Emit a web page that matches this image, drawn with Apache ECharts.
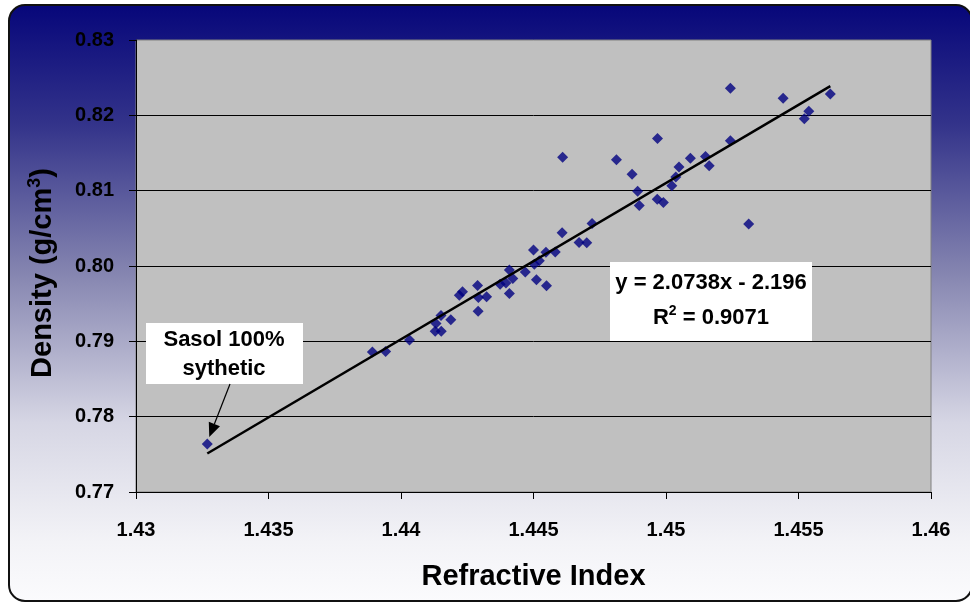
<!DOCTYPE html>
<html>
<head>
<meta charset="utf-8">
<script src="https://cdn.jsdelivr.net/npm/echarts@6/dist/echarts.min.js"></script>
<style>
  html, body { margin: 0; padding: 0; background: #ffffff; }
  #chart { width: 970px; height: 604px; }
</style>
</head>
<body>
<div id="chart"></div>
<script>
// Refractive index vs density of fuel samples
const refractiveIndex = [
  1.43269, 1.43892, 1.43942, 1.44032, 1.44129, 1.44152, 1.44132, 1.44151, 1.44188,
  1.44220, 1.44232, 1.44289, 1.44292, 1.44291, 1.44323, 1.44374, 1.44396, 1.44409,
  1.44409, 1.44422, 1.44469, 1.44500, 1.44503, 1.44511, 1.44522, 1.44547, 1.44549,
  1.44582, 1.44608, 1.44610, 1.44672, 1.44701, 1.44721, 1.44813, 1.44872, 1.44893,
  1.44899, 1.44968, 1.44967, 1.44990, 1.45022, 1.45037, 1.45049, 1.45092, 1.45149,
  1.45163, 1.45243, 1.45243, 1.45312, 1.45442, 1.45522, 1.45539, 1.45620
];
const density = [
  0.77637, 0.78858, 0.78865, 0.79018, 0.79133, 0.79133, 0.79237, 0.79343, 0.79287,
  0.79612, 0.79659, 0.79741, 0.79582, 0.79400, 0.79591, 0.79758, 0.79774, 0.79635,
  0.79947, 0.79834, 0.79920, 0.80212, 0.80023, 0.79818, 0.80070, 0.80182, 0.79737,
  0.80186, 0.80442, 0.81443, 0.80312, 0.80309, 0.80564, 0.81410, 0.81219, 0.80993,
  0.80803, 0.81692, 0.80885, 0.80843, 0.81066, 0.81181, 0.81314, 0.81430, 0.81454,
  0.81330, 0.81662, 0.82359, 0.80558, 0.82226, 0.81955, 0.82055, 0.82283
];

// Linear fit shown on the chart: y = 2.0738x - 2.196, R^2 = 0.9071
const fitSlope = 2.0738;
const fitIntercept = -2.196;

const xTickLabels = ['1.43', '1.435', '1.44', '1.445', '1.45', '1.455', '1.46'];
const yTickLabels = ['0.77', '0.78', '0.79', '0.80', '0.81', '0.82', '0.83'];

const X_MIN = 1.43, X_MAX = 1.46, X_STEP = 0.005;
const Y_MIN = 0.77, Y_MAX = 0.83, Y_STEP = 0.01;

const FONT = '"Liberation Sans", Arial, sans-serif';

const points = refractiveIndex.map((x, i) => [x, density[i]]);
const xLo = Math.min.apply(null, refractiveIndex);
const xHi = Math.max.apply(null, refractiveIndex);
const fitLine = [
  [xLo, fitSlope * xLo + fitIntercept],
  [xHi, fitSlope * xHi + fitIntercept]
];

const chart = echarts.init(document.getElementById('chart'), null, { renderer: 'canvas' });

const option = {
  animation: false,
  backgroundColor: 'transparent',
  grid: {
    left: 136, top: 40, width: 795, height: 452,
    show: true,
    backgroundColor: '#C0C0C0',
    borderColor: '#808080',
    borderWidth: 1
  },
  xAxis: {
    type: 'value',
    min: X_MIN, max: X_MAX, interval: X_STEP,
    axisLine: { show: true, onZero: false, lineStyle: { color: '#000', width: 1 } },
    axisTick: { show: true, length: 7, lineStyle: { color: '#000', width: 1 } },
    splitLine: { show: false },
    axisLabel: {
      color: '#000', fontSize: 20, fontWeight: 'bold', fontFamily: FONT, margin: 28,
      formatter: v => xTickLabels[Math.round((v - X_MIN) / X_STEP)]
    },
    name: 'Refractive Index',
    nameLocation: 'middle',
    nameGap: 70,
    nameTextStyle: { color: '#000', fontSize: 29, fontWeight: 'bold', fontFamily: FONT }
  },
  yAxis: {
    type: 'value',
    min: Y_MIN, max: Y_MAX, interval: Y_STEP,
    axisLine: { show: true, onZero: false, lineStyle: { color: '#000', width: 1 } },
    axisTick: { show: true, length: 7, lineStyle: { color: '#000', width: 1 } },
    splitLine: { show: true, showMaxLine: false, lineStyle: { color: '#000', width: 1 } },
    axisLabel: {
      color: '#000', fontSize: 20, fontWeight: 'bold', fontFamily: FONT, margin: 22,
      formatter: v => yTickLabels[Math.round((v - Y_MIN) / Y_STEP)]
    },
    name: '{t|Density (g/cm}{s|3}{t|)}',
    nameLocation: 'middle',
    nameRotate: 90,
    nameGap: 76,
    nameTextStyle: {
      color: '#000', fontSize: 29, fontWeight: 'bold', fontFamily: FONT,
      padding: [0, 14, 0, 0],
      rich: {
        t: { color: '#000', fontSize: 29, fontWeight: 'bold', fontFamily: FONT, lineHeight: 34 },
        s: { color: '#000', fontSize: 18, fontWeight: 'bold', fontFamily: FONT, verticalAlign: 'top', lineHeight: 34, padding: [0, 0, 14, 0] }
      }
    }
  },
  series: [
    {
      type: 'scatter',
      data: points,
      symbol: 'diamond',
      symbolSize: 11,
      itemStyle: { color: '#000080' },
      z: 3
    },
    {
      type: 'line',
      data: fitLine,
      symbol: 'none',
      lineStyle: { color: '#000', width: 2.5 },
      z: 4
    }
  ]
};

chart.setOption(option);

// Frame, equation box and the callout for the synthetic sample
const sasol = points[0];
const tipPx = chart.convertToPixel({ gridIndex: 0 }, sasol);
const tip = [tipPx[0] + 2, tipPx[1] - 7];
const tail = [230, 384];
const dx = tip[0] - tail[0], dy = tip[1] - tail[1];
const len = Math.sqrt(dx * dx + dy * dy);
const ux = dx / len, uy = dy / len;
const headLen = 14, headHalf = 6;
const base = [tip[0] - ux * headLen, tip[1] - uy * headLen];
const arrowHead = [
  tip,
  [base[0] - uy * headHalf, base[1] + ux * headHalf],
  [base[0] + uy * headHalf, base[1] - ux * headHalf]
];

chart.setOption({
  graphic: [
    {
      type: 'rect', z: -10, silent: true,
      shape: { x: 9, y: 5, width: 963, height: 596, r: 16 },
      style: {
        fill: new echarts.graphic.LinearGradient(0, 0, 0, 1, [
          { offset: 0, color: '#06067a' },
          { offset: 0.2, color: '#33338a' },
          { offset: 0.45, color: '#8585b0' },
          { offset: 0.7, color: '#d6d6e4' },
          { offset: 0.9, color: '#f3f3f7' },
          { offset: 1, color: '#fbfbfd' }
        ]),
        stroke: '#111', lineWidth: 2
      }
    },
    {
      type: 'rect', z: 10,
      shape: { x: 610, y: 262, width: 202, height: 79 },
      style: { fill: '#ffffff' }
    },
    {
      type: 'text', z: 11,
      x: 711, y: 283,
      style: {
        text: 'y = 2.0738x - 2.196',
        fill: '#000', font: 'bold 22px ' + FONT,
        align: 'center', verticalAlign: 'middle'
      }
    },
    {
      type: 'text', z: 11,
      x: 711, y: 318,
      style: {
        text: '{t|R}{s|2}{t| = 0.9071}',
        align: 'center', verticalAlign: 'middle',
        rich: {
          t: { fill: '#000', fontSize: 22, fontWeight: 'bold', fontFamily: FONT, lineHeight: 28 },
          s: { fill: '#000', fontSize: 14, fontWeight: 'bold', fontFamily: FONT, verticalAlign: 'top', lineHeight: 28, padding: [0, 0, 9, 0] }
        }
      }
    },
    {
      type: 'rect', z: 10,
      shape: { x: 146, y: 323, width: 157, height: 61 },
      style: { fill: '#ffffff' }
    },
    {
      type: 'text', z: 11,
      x: 224, y: 340,
      style: {
        text: 'Sasol 100%',
        fill: '#000', font: 'bold 22px ' + FONT,
        align: 'center', verticalAlign: 'middle'
      }
    },
    {
      type: 'text', z: 11,
      x: 224, y: 369,
      style: {
        text: 'sythetic',
        fill: '#000', font: 'bold 22px ' + FONT,
        align: 'center', verticalAlign: 'middle'
      }
    },
    {
      type: 'line', z: 11,
      shape: { x1: tail[0], y1: tail[1], x2: base[0], y2: base[1] },
      style: { stroke: '#000', lineWidth: 1.2 }
    },
    {
      type: 'polygon', z: 11,
      shape: { points: arrowHead },
      style: { fill: '#000' }
    }
  ]
});
</script>
</body>
</html>
